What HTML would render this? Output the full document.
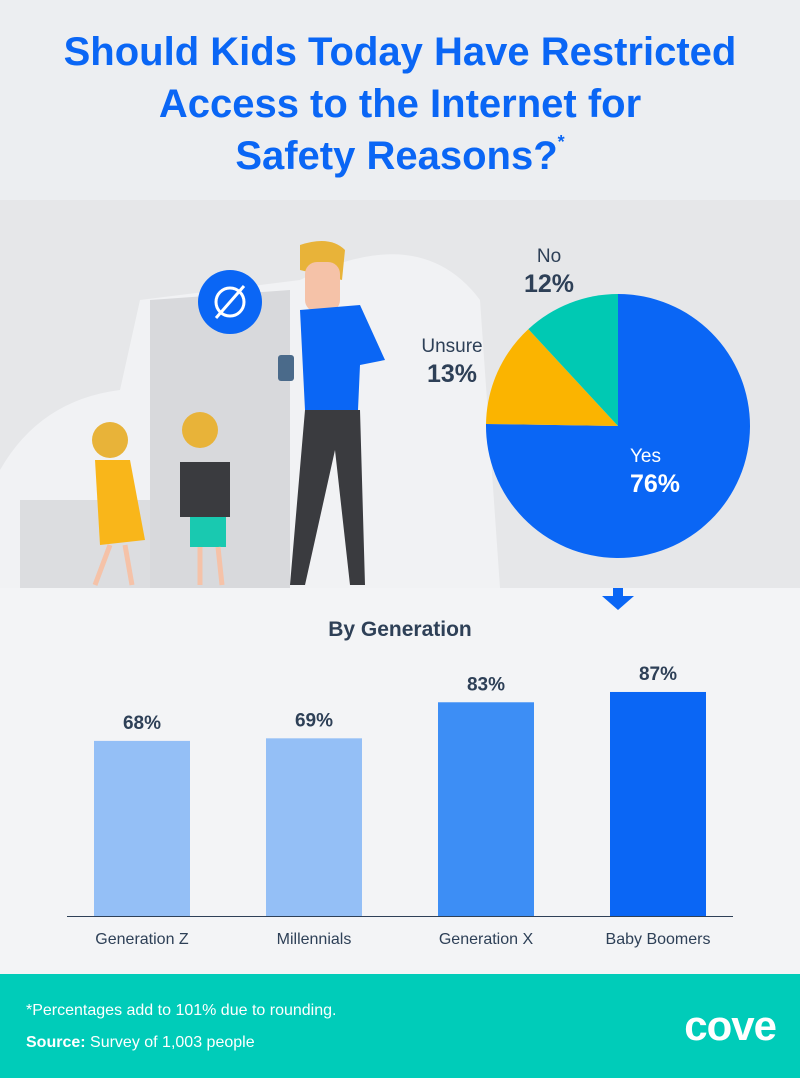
<!DOCTYPE html>
<html><head><meta charset="utf-8"><style>
html,body{margin:0;padding:0}
body{width:800px;height:1078px;position:relative;overflow:hidden;font-family:"Liberation Sans",sans-serif;background:#f3f4f6}
#title{position:absolute;left:0;top:0;width:800px;height:200px;background:#eceef1}
#title h1{margin:0;position:absolute;top:26px;width:800px;text-align:center;color:#0a66f5;font-size:40px;line-height:52px;font-weight:bold}
#title sup{font-size:18px;line-height:0;vertical-align:top;position:relative;top:12px}
#footer{position:absolute;left:0;top:974px;width:800px;height:104px;background:#00ccb9;color:#fff}
</style></head><body>
<div id="title"><h1>Should Kids Today Have Restricted<br>Access to the Internet for<br>Safety Reasons?<sup>*</sup></h1></div>
<svg id="main" width="800" height="974" style="position:absolute;left:0;top:0">
<rect x="0" y="200" width="800" height="388" fill="#e6e7e9"/>
<path d="M0 588 L0 470 Q40 400 120 390 L140 300 L300 280 Q420 220 480 300 L500 588Z" fill="#f1f2f4"/>
<path d="M150 588 L150 300 L290 290 L290 588Z" fill="#d8d9dc"/>
<path d="M20 588 L20 500 L150 500 L150 588Z" fill="#dcdde0"/>
<g>
<circle cx="230" cy="302" r="32" fill="#0a66f5"/><circle cx="230" cy="302" r="14" fill="none" stroke="#fff" stroke-width="3"/><line x1="216" y1="318" x2="244" y2="286" stroke="#fff" stroke-width="3"/>
<path d="M300 245 Q330 235 345 250 L342 280 L300 270Z" fill="#e8b339"/>
<rect x="305" y="262" width="35" height="50" rx="12" fill="#f5c2a8"/>
<path d="M300 310 L360 305 L385 360 L360 365 L358 410 L305 410Z" fill="#0a66f5"/>
<path d="M305 410 L360 410 L365 585 L350 585 L335 450 L305 585 L290 585Z" fill="#3a3b3f"/>
<rect x="278" y="355" width="16" height="26" rx="3" fill="#4a6a8a"/>
<circle cx="110" cy="440" r="18" fill="#e8b339"/><path d="M95 460 L130 460 L145 540 L100 545Z" fill="#f9b61a"/>
<line x1="110" y1="545" x2="95" y2="585" stroke="#f5c2a8" stroke-width="5"/><line x1="125" y1="545" x2="132" y2="585" stroke="#f5c2a8" stroke-width="5"/>
<circle cx="200" cy="430" r="18" fill="#e8b339"/><rect x="180" y="462" width="50" height="55" fill="#3a3b3f"/><rect x="190" y="517" width="36" height="30" fill="#19c9b0"/>
<line x1="200" y1="547" x2="200" y2="585" stroke="#f5c2a8" stroke-width="5"/><line x1="218" y1="547" x2="222" y2="585" stroke="#f5c2a8" stroke-width="5"/>
</g>
<g id="pie"></g>
<polygon points="613,588 623,588 623,596 634,596 618,610 602,596 613,596" fill="#0a66f5"/>
<text x="400" y="636" text-anchor="middle" font-size="21" font-weight="bold" fill="#2e4057">By Generation</text>
<g id="bars"></g>
<line x1="67" y1="916.5" x2="733" y2="916.5" stroke="#2e4057" stroke-width="1"/>
</svg>
<div id="footer">
<div style="position:absolute;left:26px;top:28px;font-size:16px">*Percentages add to 101% due to rounding.</div>
<div style="position:absolute;left:26px;top:60px;font-size:16px"><b>Source:</b> Survey of 1,003 people</div>
<div style="position:absolute;right:24px;top:28px;font-size:42px;font-weight:bold;letter-spacing:-1px">cove</div>
</div>
<script>
const pieLabels=["Yes","Unsure","No"];
const pieValues=[76,13,12];
const pieColors=["#0a66f5","#fbb400","#00c9b3"];
const barCategories=["Generation Z","Millennials","Generation X","Baby Boomers"];
const barValues=[68,69,83,87];
const barColors=["#94bff6","#94bff6","#3d8ef5","#0a66f5"];
const NS="http://www.w3.org/2000/svg";
const cx=618,cy=426,r=132;
const pie=document.getElementById('pie');
const total=pieValues.reduce((a,b)=>a+b,0);
let ang=0;
const pt=a=>[cx+r*Math.sin(a),cy-r*Math.cos(a)];
const labelPos=[[660,462,"#fff"],[452,352,"#2e4057"],[549,262,"#2e4057"]];
pieValues.forEach((v,i)=>{
  const a0=ang,a1=ang+v/total*2*Math.PI;ang=a1;
  const [x0,y0]=pt(a0),[x1,y1]=pt(a1);
  const p=document.createElementNS(NS,'path');
  p.setAttribute('d',`M${cx} ${cy} L${x0} ${y0} A${r} ${r} 0 ${a1-a0>Math.PI?1:0} 1 ${x1} ${y1}Z`);
  p.setAttribute('fill',pieColors[i]);
  
  
  pie.appendChild(p);
  const [lx,ly,col]=labelPos[i];
  const t1=document.createElementNS(NS,'text');
  t1.setAttribute('x',i==0?lx-30:lx);t1.setAttribute('y',ly);t1.setAttribute('font-size','19');t1.setAttribute('fill',col);
  t1.setAttribute('text-anchor',i==0?'start':'middle');
  t1.textContent=pieLabels[i];
  
  
  pie.appendChild(t1);
  const t2=document.createElementNS(NS,'text');
  t2.setAttribute('x',i==0?lx-30:lx);t2.setAttribute('y',ly+30);t2.setAttribute('font-size','25');t2.setAttribute('font-weight','bold');t2.setAttribute('fill',col);
  t2.setAttribute('text-anchor',i==0?'start':'middle');
  t2.textContent=v+'%';
  
  
  pie.appendChild(t2);
});
const base=916,scale=2.575,bw=96;
const xPos=i=>94+i*172;
const yPos=v=>base-v*scale;
const bars=document.getElementById('bars');
barValues.forEach((v,i)=>{
  const x=xPos(i),y=yPos(v);
  const rc=document.createElementNS(NS,'rect');
  rc.setAttribute('x',x);rc.setAttribute('y',y);rc.setAttribute('width',bw);rc.setAttribute('height',base-y);rc.setAttribute('fill',barColors[i]);
  
  
  bars.appendChild(rc);
  const t=document.createElementNS(NS,'text');
  t.setAttribute('x',x+bw/2);t.setAttribute('y',y-12);t.setAttribute('text-anchor','middle');t.setAttribute('font-size','19');t.setAttribute('font-weight','bold');t.setAttribute('fill','#2e4057');
  t.textContent=v+'%';
  
  
  bars.appendChild(t);
  const c=document.createElementNS(NS,'text');
  c.setAttribute('x',x+bw/2);c.setAttribute('y',944);c.setAttribute('text-anchor','middle');c.setAttribute('font-size','16');c.setAttribute('fill','#2e4057');
  c.textContent=barCategories[i];
  
  
  bars.appendChild(c);
});
</script>
</body></html>
